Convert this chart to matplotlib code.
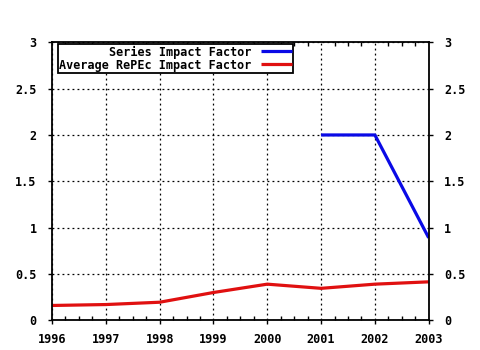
import matplotlib
matplotlib.use("Agg")
import matplotlib.pyplot as plt
from matplotlib.ticker import MultipleLocator

# impact factor series, by year
years = [1996, 1997, 1998, 1999, 2000, 2001, 2002, 2003]
repec_avg = [0.16, 0.17, 0.195, 0.30, 0.39, 0.345, 0.39, 0.415]
series_years = [2001, 2002, 2003]
series_if = [2.0, 2.0, 0.89]
y_ticks = [0, 0.5, 1, 1.5, 2, 2.5, 3]
y_labels = ["0", "0.5", "1", "1.5", "2", "2.5", "3"]

BLUE = "#0a0ae6"; RED = "#e01010"
FONT = dict(family="DejaVu Sans Mono", weight="bold", size=8.5)
plt.rcParams.update({"font.family": "DejaVu Sans Mono", "font.weight": "bold", "font.size": 8.5})

fig = plt.figure(figsize=(4.8, 3.5), dpi=100)
ax = fig.add_axes([52/480, 29.7/350, 376.7/480, 278/350])
ax.plot(series_years, series_if, color=BLUE, lw=2.3, label="Series Impact Factor", solid_capstyle="butt")
ax.plot(years, repec_avg, color=RED, lw=2.3, label="Average RePEc Impact Factor", solid_capstyle="butt")

ax.set_xlim(1996, 2003); ax.set_ylim(0, 3)
ax.set_xticks(years)
ax.set_yticks(y_ticks, y_labels)
ax.xaxis.set_minor_locator(MultipleLocator(0.25))
ax.grid(True, which="major", color="black", ls=(0, (1.5, 2.5)), lw=0.9)
ax.tick_params(axis="x", which="major", direction="out", length=3, pad=6, width=1, top=False)
ax.tick_params(axis="x", which="minor", direction="in", length=3, width=1, top=True, bottom=True)
ax.tick_params(axis="y", which="major", direction="out", length=3, pad=8, width=1,
               right=True, labelright=True)
for sp in ax.spines.values():
    sp.set_linewidth(1.3)

leg = ax.legend(loc="upper left", bbox_to_anchor=(6/376.7, 1 - 2/278), markerfirst=False,
                fancybox=False, framealpha=1, edgecolor="black", borderaxespad=0,
                borderpad=0.1, labelspacing=0.0, handletextpad=0.8, handlelength=2.6,
                prop=FONT)
leg.get_frame().set_linewidth(1.3)

fig.savefig("out.png", dpi=100, facecolor="white")
